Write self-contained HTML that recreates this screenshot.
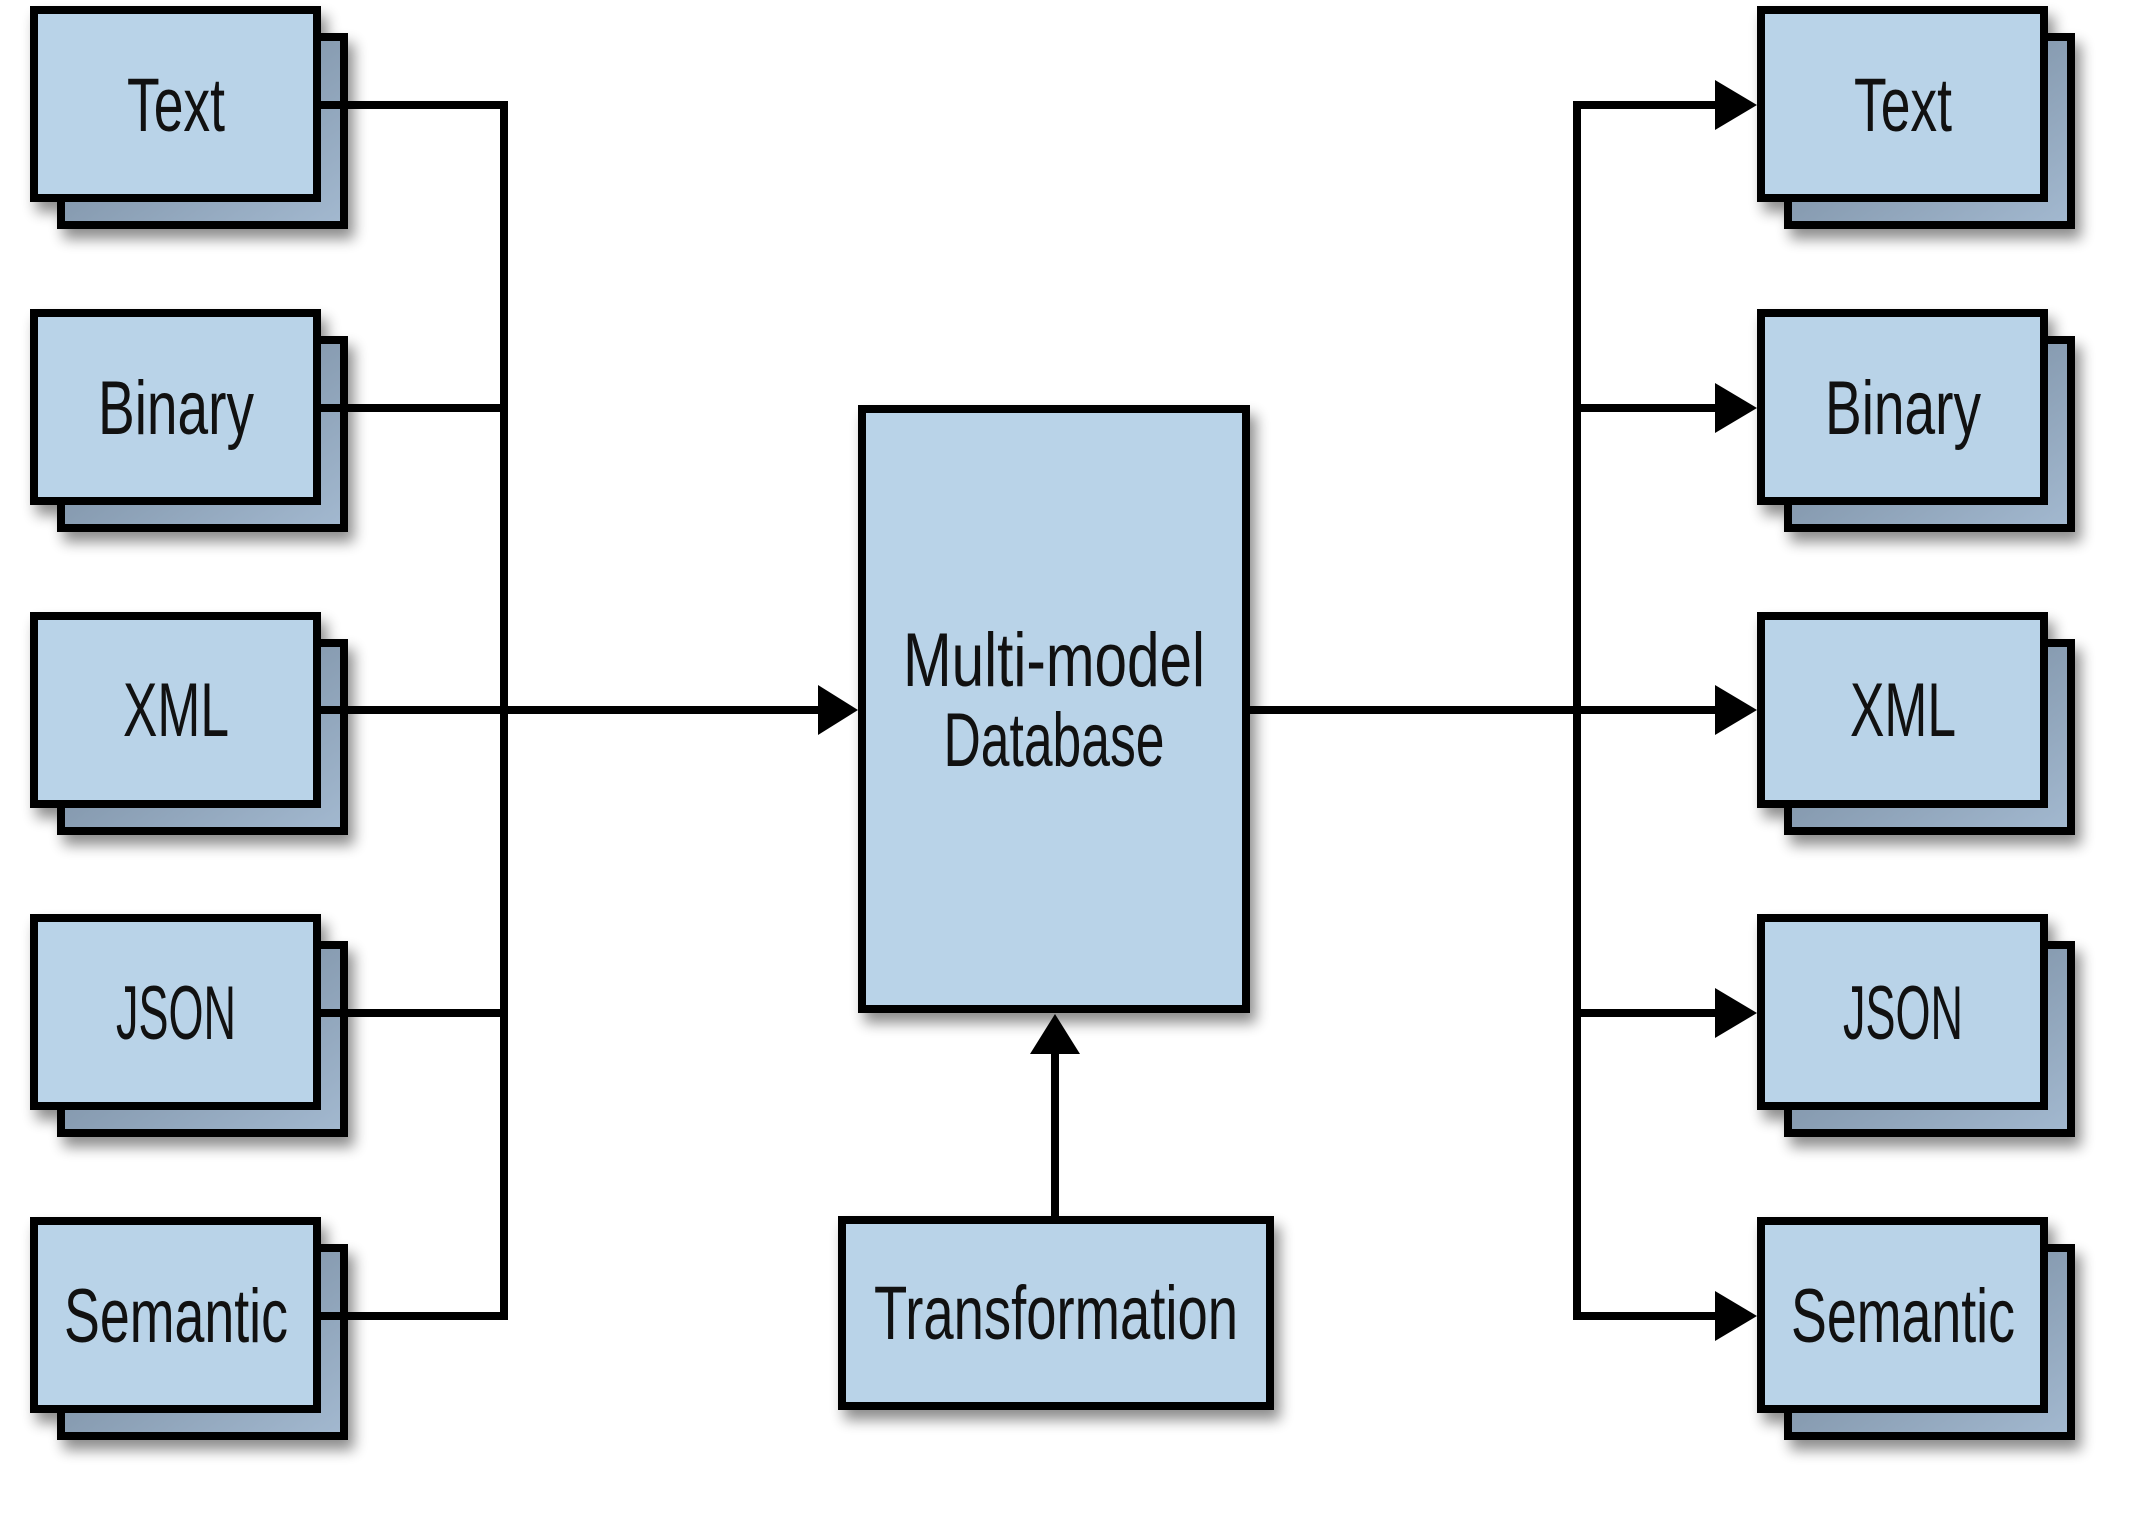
<!DOCTYPE html>
<html><head><meta charset="utf-8"><style>
html,body{margin:0;padding:0;background:#fff;}
svg{display:block;}
text{font-family:"Liberation Sans Narrow","Liberation Sans",sans-serif;fill:#111;}
</style></head><body>
<svg width="2130" height="1536" viewBox="0 0 2130 1536" xmlns="http://www.w3.org/2000/svg">
<defs>
<filter id="sh" x="-20%" y="-20%" width="150%" height="150%">
<feGaussianBlur in="SourceAlpha" stdDeviation="7"/>
<feOffset dx="6" dy="10"/>
<feComponentTransfer><feFuncA type="linear" slope="0.45"/></feComponentTransfer>
<feMerge><feMergeNode/><feMergeNode in="SourceGraphic"/></feMerge>
</filter>
<linearGradient id="bk" x1="0" y1="0" x2="1" y2="1">
<stop offset="0" stop-color="#6f8296"/><stop offset="1" stop-color="#a3b9d0"/>
</linearGradient>
</defs>

<g stroke="#000" stroke-width="8" fill="none">
<polyline points="321,105 504,105 504,1316 321,1316"/>
<line x1="321" y1="408" x2="504" y2="408"/>
<line x1="321" y1="1013" x2="504" y2="1013"/>
<line x1="321" y1="710" x2="820" y2="710"/>
<line x1="1250" y1="710" x2="1716" y2="710"/>
<polyline points="1716,105 1577,105 1577,1316 1716,1316"/>
<line x1="1577" y1="408" x2="1716" y2="408"/>
<line x1="1577" y1="1013" x2="1716" y2="1013"/>
<line x1="1055" y1="1216" x2="1055" y2="1050"/>
</g>
<g fill="#000">
<polygon points="818,685 858,710 818,735"/>
<polygon points="1030,1054 1055,1014 1080,1054"/>
<polygon points="1715,80 1757,105 1715,130"/>
<polygon points="1715,383 1757,408 1715,433"/>
<polygon points="1715,685 1757,710 1715,735"/>
<polygon points="1715,988 1757,1013 1715,1038"/>
<polygon points="1715,1291 1757,1316 1715,1341"/>
</g>

<g stroke="#000" stroke-width="8">
<g filter="url(#sh)">
<rect x="61" y="37" width="283" height="188" fill="url(#bk)"/><rect x="34" y="10" width="283" height="188" fill="#b9d3e8"/>
<rect x="61" y="340" width="283" height="188" fill="url(#bk)"/><rect x="34" y="313" width="283" height="188" fill="#b9d3e8"/>
<rect x="61" y="643" width="283" height="188" fill="url(#bk)"/><rect x="34" y="616" width="283" height="188" fill="#b9d3e8"/>
<rect x="61" y="945" width="283" height="188" fill="url(#bk)"/><rect x="34" y="918" width="283" height="188" fill="#b9d3e8"/>
<rect x="61" y="1248" width="283" height="188" fill="url(#bk)"/><rect x="34" y="1221" width="283" height="188" fill="#b9d3e8"/>
</g>
<g filter="url(#sh)">
<rect x="1788" y="37" width="283" height="188" fill="url(#bk)"/><rect x="1761" y="10" width="283" height="188" fill="#b9d3e8"/>
<rect x="1788" y="340" width="283" height="188" fill="url(#bk)"/><rect x="1761" y="313" width="283" height="188" fill="#b9d3e8"/>
<rect x="1788" y="643" width="283" height="188" fill="url(#bk)"/><rect x="1761" y="616" width="283" height="188" fill="#b9d3e8"/>
<rect x="1788" y="945" width="283" height="188" fill="url(#bk)"/><rect x="1761" y="918" width="283" height="188" fill="#b9d3e8"/>
<rect x="1788" y="1248" width="283" height="188" fill="url(#bk)"/><rect x="1761" y="1221" width="283" height="188" fill="#b9d3e8"/>
</g>
<g filter="url(#sh)">
<rect x="862" y="409" width="384" height="600" fill="#b9d3e8"/>
<rect x="842" y="1220" width="428" height="186" fill="#b9d3e8"/>
</g>
</g>
<g stroke="#000" stroke-width="8">
<line x1="317" y1="105" x2="350" y2="105"/><line x1="317" y1="408" x2="350" y2="408"/>
<line x1="317" y1="710" x2="350" y2="710"/><line x1="317" y1="1013" x2="350" y2="1013"/>
<line x1="317" y1="1316" x2="350" y2="1316"/>
</g>

<g font-size="76" text-anchor="middle">
<text x="176" y="131" textLength="98" lengthAdjust="spacingAndGlyphs">Text</text>
<text x="176" y="434" textLength="156" lengthAdjust="spacingAndGlyphs">Binary</text>
<text x="176" y="736" textLength="106" lengthAdjust="spacingAndGlyphs">XML</text>
<text x="176" y="1039" textLength="120" lengthAdjust="spacingAndGlyphs">JSON</text>
<text x="176" y="1342" textLength="224" lengthAdjust="spacingAndGlyphs">Semantic</text>
<text x="1903" y="131" textLength="98" lengthAdjust="spacingAndGlyphs">Text</text>
<text x="1903" y="434" textLength="156" lengthAdjust="spacingAndGlyphs">Binary</text>
<text x="1903" y="736" textLength="106" lengthAdjust="spacingAndGlyphs">XML</text>
<text x="1903" y="1039" textLength="120" lengthAdjust="spacingAndGlyphs">JSON</text>
<text x="1903" y="1342" textLength="224" lengthAdjust="spacingAndGlyphs">Semantic</text>
<text x="1054" y="686" textLength="302" lengthAdjust="spacingAndGlyphs">Multi-model</text>
<text x="1054" y="766" textLength="221" lengthAdjust="spacingAndGlyphs">Database</text>
<text x="1056" y="1339" textLength="364" lengthAdjust="spacingAndGlyphs">Transformation</text>
</g>
</svg>
</body></html>
